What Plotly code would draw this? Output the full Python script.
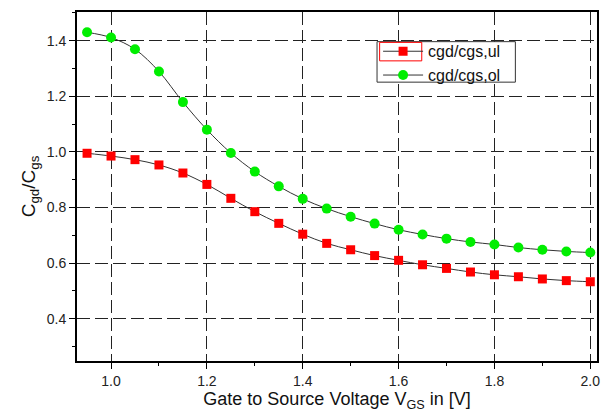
import plotly.graph_objects as go

# Gate-source voltage sweep
vgs = [0.95, 1.00, 1.05, 1.10, 1.15, 1.20, 1.25, 1.30, 1.35, 1.40, 1.45,
       1.50, 1.55, 1.60, 1.65, 1.70, 1.75, 1.80, 1.85, 1.90, 1.95, 2.00]

# Capacitance ratio Cgd/Cgs, underlap and overlap devices
ratio_ul = [0.995, 0.985, 0.972, 0.953, 0.924, 0.883, 0.833, 0.785, 0.743, 0.704, 0.671,
            0.648, 0.627, 0.610, 0.594, 0.581, 0.568, 0.558, 0.551, 0.543, 0.537, 0.533]
ratio_ol = [1.430, 1.411, 1.369, 1.289, 1.179, 1.080, 0.996, 0.929, 0.876, 0.831, 0.796,
            0.767, 0.742, 0.720, 0.703, 0.688, 0.676, 0.667, 0.656, 0.648, 0.642, 0.638]

x_ticks = [1.0, 1.2, 1.4, 1.6, 1.8, 2.0]
y_ticks = [0.4, 0.6, 0.8, 1.0, 1.2, 1.4]

FONT = "Liberation Sans, Arial, sans-serif"

fig = go.Figure()
fig.add_trace(go.Scatter(
    x=vgs, y=ratio_ul, name="cgd/cgs,ul", mode="lines+markers",
    line=dict(color="#333333", width=1, shape="spline"),
    marker=dict(symbol="square", size=9, color="#ff0000", line=dict(width=0)),
))
fig.add_trace(go.Scatter(
    x=vgs, y=ratio_ol, name="cgd/cgs,ol", mode="lines+markers",
    line=dict(color="#333333", width=1, shape="spline"),
    marker=dict(symbol="circle", size=10, color="#00ee00", line=dict(width=0)),
))

axis_common = dict(
    showline=True, linecolor="black", linewidth=2, mirror=True,
    ticks="outside", ticklen=6, tickwidth=1, tickcolor="black",
    showgrid=True, gridcolor="#222222", griddash="13px,5px", gridwidth=1,
    zeroline=False,
    tickfont=dict(family=FONT, size=14, color="#222"),
    minor=dict(ticks="outside", ticklen=3, tickcolor="black", showgrid=False),
)

fig.update_xaxes(
    range=[0.929, 2.014], tickvals=x_ticks, ticktext=[f"{v:.1f}" for v in x_ticks],
    minor_dtick=0.1, minor_tick0=0.9,
    title=dict(text="Gate to Source Voltage V<sub>GS</sub> in [V]",
               font=dict(family=FONT, size=18, color="#111"), standoff=3),
    **axis_common,
)
fig.update_yaxes(
    range=[0.248, 1.503], tickvals=y_ticks, ticktext=[f"{v:.1f}" for v in y_ticks],
    minor_dtick=0.1, minor_tick0=0.3,
    title=dict(text="C<sub>gd</sub>/C<sub>gs</sub>",
               font=dict(family=FONT, size=19, color="#111"), standoff=6),
    **axis_common,
)

fig.update_layout(
    width=602, height=413,
    margin=dict(l=77, r=3, t=12, b=52),
    paper_bgcolor="white", plot_bgcolor="white",
    font=dict(family=FONT),
    showlegend=True,
    legend=dict(
        x=0.579, y=0.936, xanchor="left", yanchor="top",
        bgcolor="rgba(0,0,0,0)", borderwidth=0,
        font=dict(family=FONT, size=16, color="#111"),
        itemwidth=40, tracegroupgap=0,
    ),
)

# legend frame with white fill, drawn over the grid
fig.add_shape(type="rect", xref="paper", yref="paper", layer="above",
              x0=0.577, x1=0.843, y0=0.799, y1=0.915,
              fillcolor="white", line=dict(color="#333333", width=1))
# thin red frame around the first legend entry
fig.add_shape(type="rect", xref="paper", yref="paper", layer="above",
              x0=0.582, x1=0.663, y0=0.860, y1=0.913,
              line=dict(color="#ff0000", width=1))

fig.write_html("out.html")
